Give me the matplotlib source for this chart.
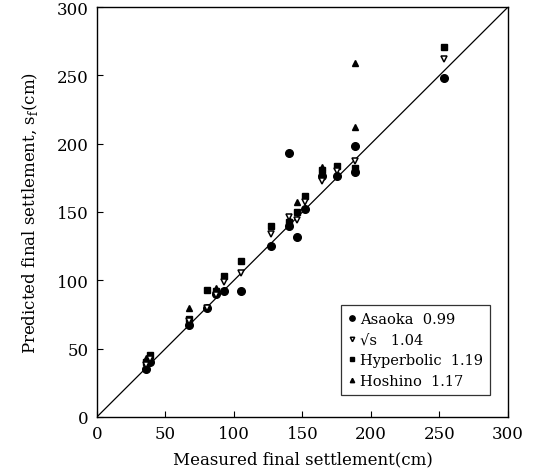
import matplotlib
matplotlib.use("Agg")
import matplotlib.pyplot as plt

# measured (x) vs predicted (y) final settlement, cm
asaoka_x = [36, 39, 67, 80, 87, 93, 105, 127, 140, 140, 146, 152, 164, 175, 188, 188, 253]
asaoka_y = [35, 40, 67, 80, 90, 92, 92, 125, 140, 193, 132, 152, 176, 176, 179, 198, 248]

sqrt_x = [36, 39, 67, 80, 87, 93, 105, 127, 140, 146, 152, 164, 175, 188, 253]
sqrt_y = [38, 42, 70, 80, 89, 99, 105, 134, 146, 144, 157, 173, 180, 187, 262]

hyp_x = [36, 39, 67, 80, 87, 93, 105, 127, 140, 146, 152, 164, 175, 188, 253]
hyp_y = [40, 45, 72, 93, 92, 103, 114, 140, 143, 150, 162, 181, 184, 182, 271]

hos_x = [36, 67, 87, 140, 146, 164, 188, 188]
hos_y = [43, 80, 94, 145, 157, 183, 212, 259]

labels = ["Asaoka  0.99", "\u221as   1.04", "Hyperbolic  1.19", "Hoshino  1.17"]
ticks = [0, 50, 100, 150, 200, 250, 300]

plt.rcParams['font.family'] = ['DejaVu Serif']

fig = plt.figure(figsize=(5.33, 4.77), dpi=100)
ax = fig.add_axes([0.182, 0.124, 0.771, 0.859])

ax.plot([0, 300], [0, 300], color='black', lw=0.9, zorder=1)

ax.plot(hyp_x, hyp_y, 's', color='black', ms=4.5, label=labels[2], zorder=2)
ax.plot(hos_x, hos_y, '^', color='black', ms=4.5, label=labels[3], zorder=2)
ax.plot(asaoka_x, asaoka_y, 'o', color='black', ms=5.5, label=labels[0], zorder=3)
ax.plot(sqrt_x, sqrt_y, 'v', mfc='white', mec='black', mew=1.1, ms=4.5, label=labels[1], zorder=4)

ax.set_xlim(0, 300)
ax.set_ylim(0, 300)
ax.set_xticks(ticks)
ax.set_yticks(ticks)
ax.tick_params(direction='in', length=4, labelsize=12, width=0.8, pad=6)
for s in ax.spines.values():
    s.set_linewidth(1.0)

ax.set_xlabel("Measured final settlement(cm)", fontsize=12, labelpad=6)
ax.set_ylabel("Predicted final settlement, s$_\\mathregular{f}$(cm)", fontsize=12, labelpad=12)

h, l = ax.get_legend_handles_labels()
order = [2, 3, 0, 1]
leg = ax.legend([h[i] for i in order], [l[i] for i in order],
                loc='lower right', bbox_to_anchor=(0.975, 0.035),
                fontsize=10.5, frameon=True, fancybox=False,
                handlelength=0.5, handletextpad=0.3, markerscale=0.7,
                borderpad=0.5, labelspacing=0.45)
leg.get_frame().set_edgecolor('black')
leg.get_frame().set_linewidth(0.9)

fig.savefig("out.png", dpi=100)
